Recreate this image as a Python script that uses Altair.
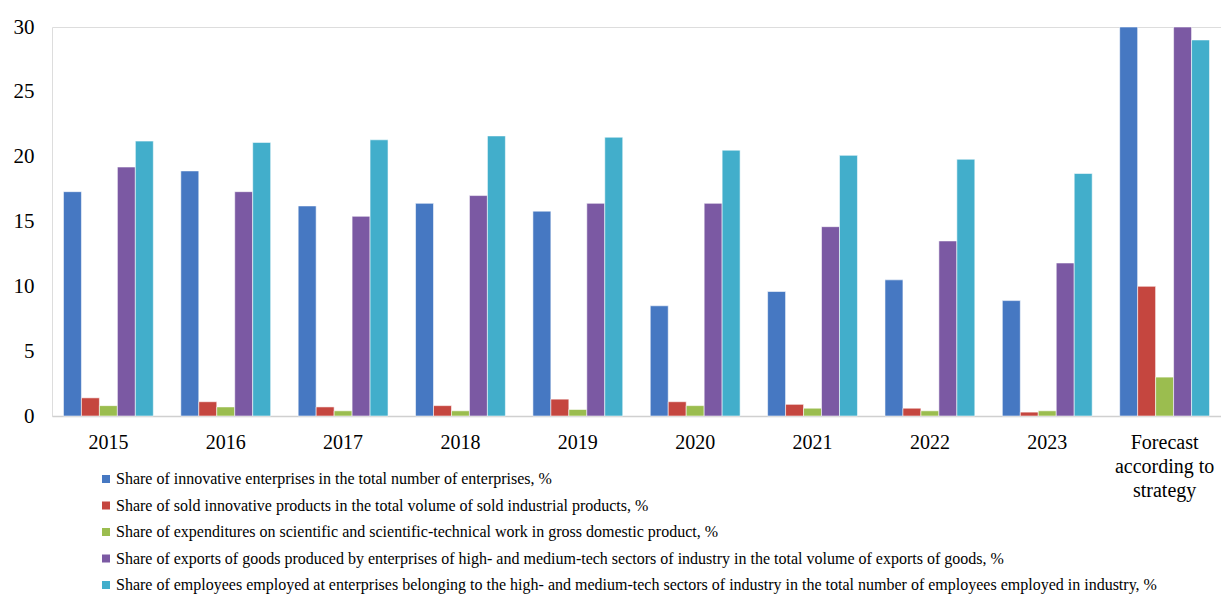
import altair as alt
import pandas as pd

categories = ["2015", "2016", "2017", "2018", "2019", "2020", "2021", "2022", "2023",
              "Forecast according to strategy"]

series_names = [
    "Share of innovative enterprises in the total number of enterprises, %",
    "Share of sold innovative products in the total volume of sold industrial products, %",
    "Share of expenditures on scientific and scientific-technical work in gross domestic product, %",
    "Share of exports of goods produced by enterprises of high- and medium-tech sectors of industry in the total volume of exports of goods, %",
    "Share of employees employed at enterprises belonging to the high- and medium-tech sectors of industry in the total number of employees employed in industry, %",
]

innovative_enterprises = [17.3, 18.9, 16.2, 16.4, 15.8, 8.5, 9.6, 10.5, 8.9, 30.0]
innovative_products = [1.4, 1.1, 0.7, 0.8, 1.3, 1.1, 0.9, 0.6, 0.3, 10.0]
rd_expenditures = [0.8, 0.7, 0.4, 0.4, 0.5, 0.8, 0.6, 0.4, 0.4, 3.0]
hightech_exports = [19.2, 17.3, 15.4, 17.0, 16.4, 16.4, 14.6, 13.5, 11.8, 30.0]
hightech_employees = [21.2, 21.1, 21.3, 21.6, 21.5, 20.5, 20.1, 19.8, 18.7, 29.0]

colors = ["#4678C2", "#C5463F", "#9BBD4F", "#7B59A3", "#42AECB"]

all_series = [innovative_enterprises, innovative_products, rd_expenditures,
              hightech_exports, hightech_employees]

rows = []
for s_idx, (name, vals) in enumerate(zip(series_names, all_series)):
    for cat, v in zip(categories, vals):
        rows.append({"category": cat, "series": name, "value": v, "order": s_idx})
df = pd.DataFrame(rows)

FONT = "'Liberation Serif', 'Times New Roman', serif"

chart = alt.Chart(df).mark_bar(stroke="#ffffff", strokeWidth=0.8, strokeOpacity=0.7).encode(
    x=alt.X(
        "category:N",
        sort=categories,
        scale=alt.Scale(paddingInner=0.2344, paddingOuter=0.0977),
        axis=alt.Axis(
            title=None,
            labelAngle=0,
            labelFontSize=20,
            labelColor="#000000",
            labelPadding=16,
            labelLineHeight=24,
            labelBaseline="top",
            labelLimit=0,
            ticks=False,
            domainColor="#d0d0d0",
            domainWidth=1.6,
            labelExpr="datum.value == 'Forecast according to strategy' ? ['Forecast', 'according to', 'strategy'] : datum.label",
        ),
    ),
    xOffset=alt.XOffset("series:N", sort=series_names),
    y=alt.Y(
        "value:Q",
        scale=alt.Scale(domain=[0, 30], nice=False),
        axis=alt.Axis(
            title=None,
            values=[0, 5, 10, 15, 20, 25, 30],
            grid=False,
            domain=False,
            ticks=False,
            labelFontSize=21,
            labelColor="#000000",
            labelPadding=18,
        ),
    ),
    color=alt.Color(
        "series:N",
        sort=series_names,
        scale=alt.Scale(domain=series_names, range=colors),
        legend=alt.Legend(
            title=None,
            orient="none",
            legendX=46,
            legendY=444,
            direction="vertical",
            symbolType="square",
            symbolSize=64,
            symbolStrokeWidth=0,
            labelFontSize=16,
            labelColor="#000000",
            labelLimit=0,
            labelOffset=2,
            rowPadding=10.5,
            padding=0,
        ),
    ),
).properties(
    width=1169,
    height=389,
    autosize=alt.AutoSizeParams(type="none"),
    padding={"left": 52, "top": 27, "right": 0, "bottom": 178},
).configure_view(
    stroke=None
).configure(
    background="#ffffff", font=FONT
).configure_axis(
    labelFont=FONT
).configure_legend(
    labelFont=FONT
)

chart.save("out.html", embed_options={"renderer": "svg", "actions": False})
